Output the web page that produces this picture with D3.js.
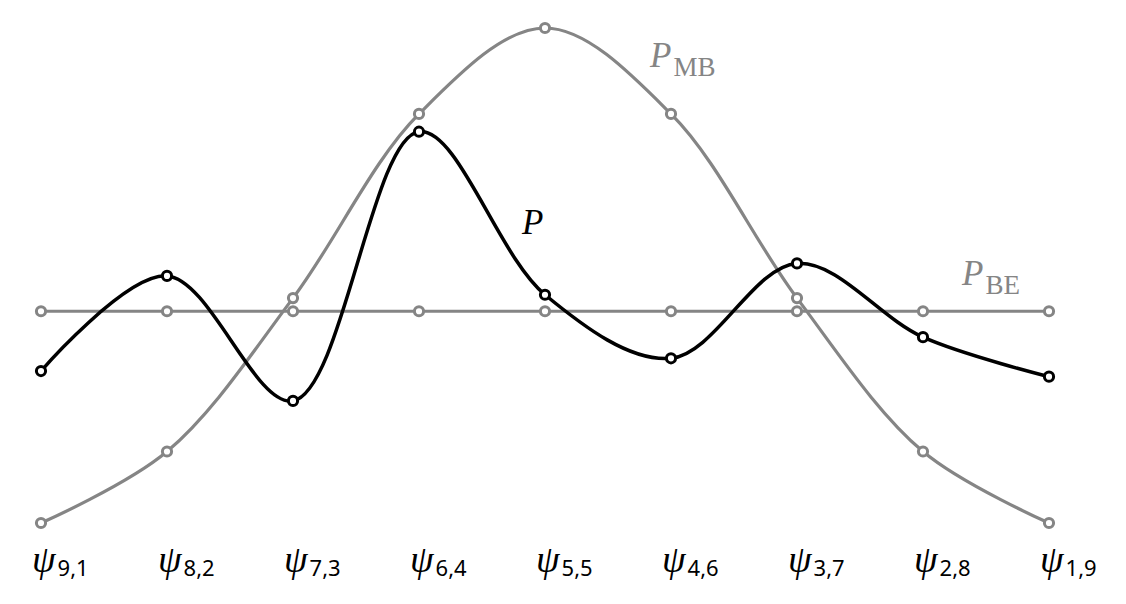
<!DOCTYPE html>
<html>
<head>
<meta charset="utf-8">
<script src="https://cdn.jsdelivr.net/npm/d3@7"></script>
<style>
  body { margin: 0; background: #fff; }
  svg { display: block; }
</style>
</head>
<body>
<div id="vis"></div>
<script>
// States psi_{n1,n2}
const states = ["9,1", "8,2", "7,3", "6,4", "5,5", "4,6", "3,7", "2,8", "1,9"];

// Probabilities
const pMB = [0.0098, 0.0440, 0.1174, 0.2055, 0.2466, 0.2055, 0.1174, 0.0440, 0.0098];
const pBE = [0.1111, 0.1111, 0.1111, 0.1111, 0.1111, 0.1111, 0.1111, 0.1111, 0.1111];
const pP  = [0.0825, 0.1280, 0.0682, 0.1970, 0.1190, 0.0886, 0.1340, 0.0987, 0.0798];

const width = 1126;
const height = 604;
const gray = "#858585";

const svg = d3.select("#vis")
  .append("svg")
  .attr("width", width)
  .attr("height", height);

const x = d3.scalePoint()
  .domain(states)
  .range([41, 1049]);

const y = d3.scaleLinear()
  .domain([0, 0.26])
  .range([543.5, 0]);

const line = d3.line()
  .x((d, i) => x(states[i]))
  .y(d => y(d))
  .curve(d3.curveCatmullRom.alpha(0.5));

function drawSeries(values, color, lw) {
  svg.append("path")
    .datum(values)
    .attr("d", line)
    .attr("fill", "none")
    .attr("stroke", color)
    .attr("stroke-width", lw);

  svg.append("g")
    .selectAll("circle")
    .data(values)
    .enter()
    .append("circle")
    .attr("cx", (d, i) => x(states[i]))
    .attr("cy", d => y(d))
    .attr("r", 4.6)
    .attr("fill", "#fff")
    .attr("stroke", color)
    .attr("stroke-width", 3);
}

drawSeries(pBE, gray, 3.2);
drawSeries(pMB, gray, 3.2);
drawSeries(pP, "#000", 3.5);

// x labels
const lab = svg.append("g")
  .selectAll("text")
  .data(states)
  .enter()
  .append("text")
  .attr("x", d => x(d) - 9)
  .attr("y", 572);

lab.append("tspan")
  .attr("font-family", "Liberation Serif, serif")
  .attr("font-style", "italic")
  .attr("font-size", "38px")
  .text("ψ");

lab.append("tspan")
  .attr("font-family", "Noto Sans, sans-serif")
  .attr("font-size", "22px")
  .attr("dx", 2)
  .attr("dy", 4)
  .text(d => d);

// series labels
function seriesLabel(xp, yp, main, sub, color) {
  const t = svg.append("text")
    .attr("x", xp)
    .attr("y", yp)
    .attr("fill", color);
  t.append("tspan")
    .attr("font-family", "Liberation Serif, serif")
    .attr("font-style", "italic")
    .attr("font-size", "35px")
    .text(main);
  if (sub) {
    t.append("tspan")
      .attr("font-family", "Liberation Serif, serif")
      .attr("font-size", "27px")
      .attr("dx", 2)
      .attr("dy", 9)
      .text(sub);
  }
}

seriesLabel(650, 67, "P", "MB", gray);
seriesLabel(962, 285, "P", "BE", gray);
seriesLabel(522, 234, "P", null, "#000");
</script>
</body>
</html>
